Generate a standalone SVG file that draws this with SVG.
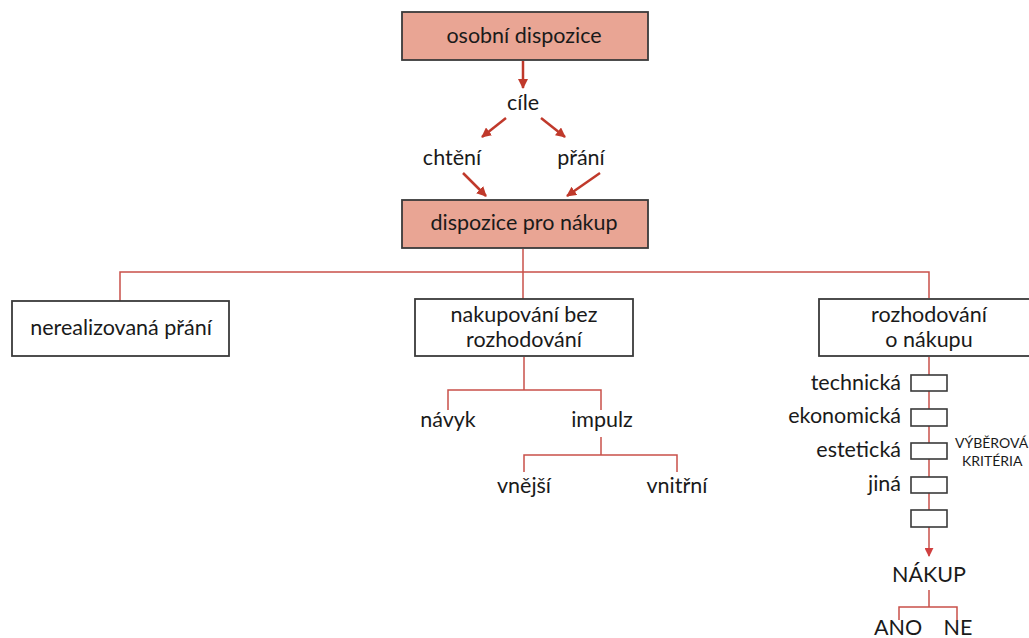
<svg xmlns="http://www.w3.org/2000/svg" width="1029" height="638" viewBox="0 0 1029 638">
<defs>
<marker id="ah" viewBox="0 0 10 10" refX="9" refY="5" markerWidth="4" markerHeight="4" orient="auto" markerUnits="strokeWidth">
<path d="M0,0 L10,5 L0,10 z" fill="#c0392b"/>
</marker>
<marker id="ah2" viewBox="0 0 10 10" refX="9" refY="5" markerWidth="6" markerHeight="6" orient="auto" markerUnits="strokeWidth">
<path d="M0,0 L10,5 L0,10 z" fill="#d04040"/>
</marker>
</defs>
<style>
text{font-family:Lato,"Liberation Sans",sans-serif;font-size:21.5px;fill:#1a1a1a;text-anchor:middle}
.fill{fill:#e9a594;stroke:#3a3a3a;stroke-width:1.8}
.box{fill:#fff;stroke:#3a3a3a;stroke-width:1.8}
.sm{fill:#fff;stroke:#3a3a3a;stroke-width:1.6}
.arr{stroke:#c0392b;stroke-width:2.5;fill:none;marker-end:url(#ah)}
.ln{stroke:#c9504a;stroke-width:1.5;fill:none}
.r{text-anchor:end}
.k{font-size:14px;text-anchor:start}
</style>
<rect width="1029" height="638" fill="#fff"/>
<g id="connectors">
<line class="arr" x1="523" y1="61" x2="523" y2="88"/>
<line class="arr" x1="506" y1="118" x2="482" y2="137"/>
<line class="arr" x1="541" y1="118" x2="565" y2="137"/>
<line class="arr" x1="463" y1="173" x2="486" y2="196"/>
<line class="arr" x1="600" y1="173" x2="567" y2="196"/>
<polyline class="ln" points="523,249 523,272"/>
<polyline class="ln" points="120,301 120,272 929,272 929,298"/>
<line class="ln" x1="523" y1="272" x2="523" y2="299"/>
<polyline class="ln" points="524,357 524,390"/>
<polyline class="ln" points="448,410 448,390 601,390 601,410"/>
<polyline class="ln" points="601,437 601,455"/>
<polyline class="ln" points="524,472 524,455 677,455 677,472"/>
<line class="ln" x1="929" y1="357" x2="929" y2="527"/>
<line x1="929" y1="527" x2="929" y2="556" stroke="#c9504a" stroke-width="1.5" marker-end="url(#ah2)"/>
<line class="ln" x1="929" y1="590" x2="929" y2="607"/>
<polyline class="ln" points="899,620 899,607 957,607 957,620"/>
</g>
<g id="osobni"><rect class="fill" x="402" y="12" width="246" height="48"/><text x="524" y="43">osobní dispozice</text></g>
<g id="cile"><text x="523" y="110">cíle</text></g>
<g id="chteni"><text x="452" y="165">chtění</text></g>
<g id="prani"><text x="581" y="165">přání</text></g>
<g id="dispozice"><rect class="fill" x="402" y="200" width="246" height="48"/><text x="524" y="230">dispozice pro nákup</text></g>
<g id="nerealizovana"><rect class="box" x="12" y="301" width="217" height="55"/><text x="121" y="335">nerealizovaná přání</text></g>
<g id="nakupovani"><rect class="box" x="415" y="299" width="218" height="57"/><text x="524" y="322">nakupování bez</text><text x="524" y="347">rozhodování</text></g>
<g id="rozhodovani"><rect class="box" x="819" y="299" width="220" height="57"/><text x="929" y="322">rozhodování</text><text x="929" y="347">o nákupu</text></g>
<g id="navyk"><text x="448" y="427">návyk</text></g>
<g id="impulz"><text x="602" y="427">impulz</text></g>
<g id="vnejsi"><text x="524" y="493">vnější</text></g>
<g id="vnitrni"><text x="677" y="493">vnitřní</text></g>
<g id="kriteria">
<rect class="sm" x="911" y="375" width="36" height="16"/>
<rect class="sm" x="911" y="409" width="36" height="17"/>
<rect class="sm" x="911" y="443" width="36" height="16"/>
<rect class="sm" x="911" y="477" width="36" height="16"/>
<rect class="sm" x="911" y="510" width="36" height="17"/>
<text class="r" x="901" y="390">technická</text>
<text class="r" x="901" y="423">ekonomická</text>
<text class="r" x="901" y="457">estetická</text>
<text class="r" x="901" y="491">jiná</text>
<text class="k" x="955" y="448">VÝBĚROVÁ</text>
<text class="k" x="962" y="466">KRITÉRIA</text>
</g>
<g id="nakup"><text x="929" y="582">NÁKUP</text></g>
<g id="ano"><text x="898" y="635">ANO</text></g>
<g id="ne"><text x="958" y="635">NE</text></g>
</svg>
